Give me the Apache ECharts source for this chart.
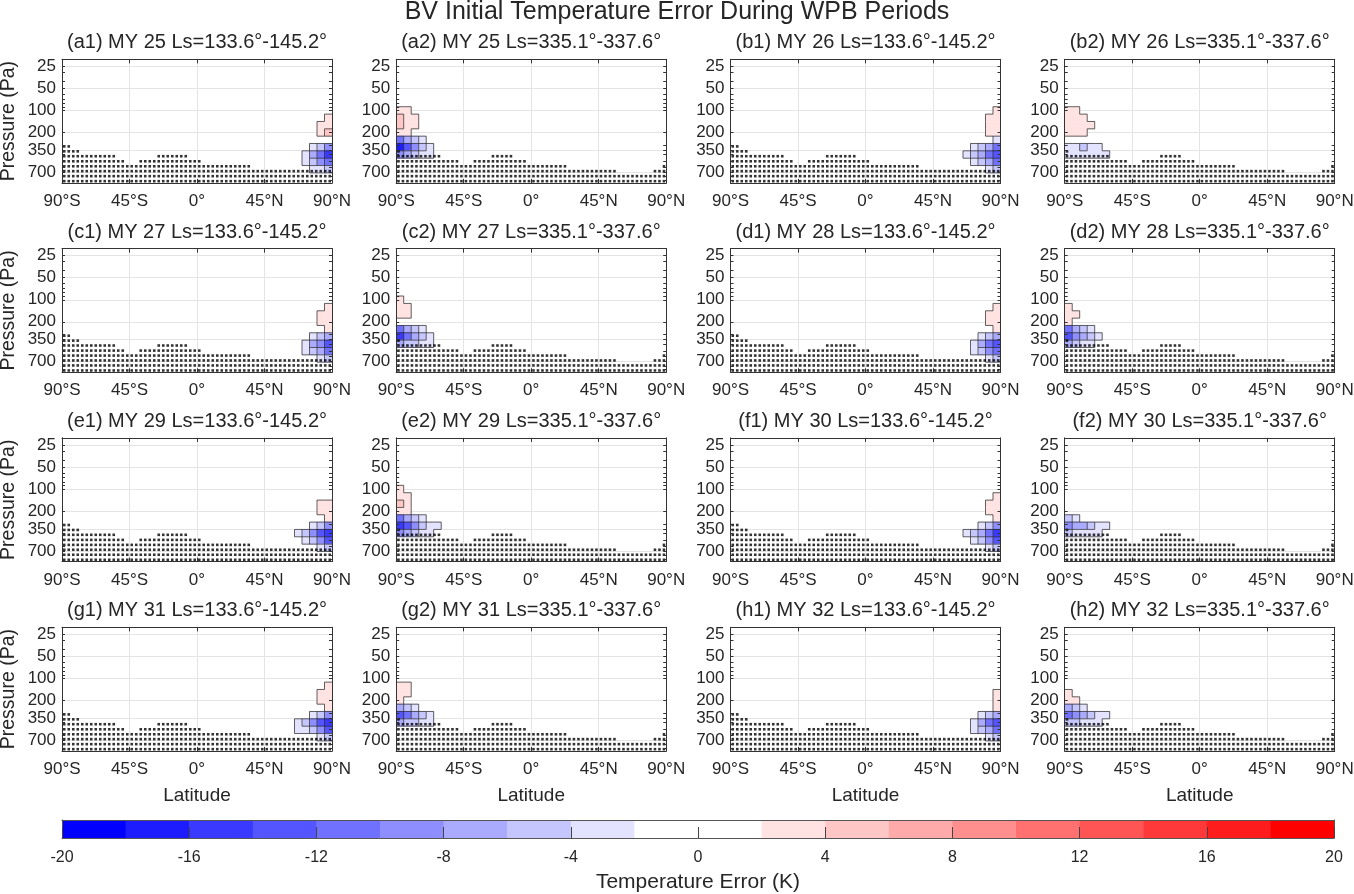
<!DOCTYPE html>
<html lang="en">
<head>
<meta charset="UTF-8">
<title>BV Initial Temperature Error During WPB Periods</title>
<script src="https://cdn.jsdelivr.net/npm/echarts@6/dist/echarts.min.js"></script>
<style>
  * { padding: 0; margin: 0; }
  html, body { width: 100%; height: 100%; background: #fff; }
  #chart { width: 1354px; height: 894px; }
</style>
</head>
<body>
<div id="chart"></div>
<script>
// ---------------- data ----------------
const YEARS = [25, 26, 27, 28, 29, 30, 31, 32];
const LETTERS = ['a', 'b', 'c', 'd', 'e', 'f', 'g', 'h'];
const LS_RANGES = ['Ls=133.6°-145.2°', 'Ls=335.1°-337.6°'];

const LAT_TICKS = [-90, -45, 0, 45, 90];
const LAT_LABELS = ['90°S', '45°S', '0°', '45°N', '90°N'];
const P_TICKS = [25, 50, 100, 200, 350, 700];
const P_MINOR = [30, 40, 60, 70, 80, 90, 300, 400, 500, 600, 800, 900];
const CB_LEVELS = [-20, -18, -16, -14, -12, -10, -8, -6, -4, -2, 0, 2, 4, 6, 8, 10, 12, 14, 16, 18, 20];

// temperature error cells: rows at these pressures (Pa), columns 5 deg wide going away from the pole
const P_ROWS = [79, 100, 126, 159, 200, 252, 317, 400, 504, 635, 800];

// Ls 133.6-145.2 panels (north pole)   /   Ls 335.1-337.6 panels (south pole)
const F_A1 = [[], [], [3], [3, 2], [4, 2], [], [-8, -5, -2], [-14, -11, -7, -3], [-11, -8, -5, -2], [-5, -3, -2], []];
const F_A2 = [[], [3, 2], [5, 3, 2], [5, 3, 2], [2, 2], [-10, -7, -4, -2], [-16, -12, -8, -5, -2], [-8, -6, -4, -2, -2], [], [], []];
const F_B1 = [[], [2], [3, 2], [3, 2], [2, 2], [-2], [-10, -7, -4, -2], [-13, -10, -7, -4, -2], [-10, -7, -5, -2], [-4, -2], []];
const F_B2 = [[], [2, 2], [3, 3, 2], [3, 3, 3, 2], [2, 2, 2], [], [-3, -3, -4, -3, -2], [-2, -2, -3, -2, -2, -2], [], [], []];
const F_C1 = [[], [], [2], [3, 2], [3, 2], [2], [-7, -4, -2], [-12, -9, -6, -3], [-10, -7, -4, -2], [-5, -2], []];
const F_C2 = [[], [2], [3, 2], [3, 2], [], [-11, -7, -4, -2], [-15, -11, -7, -5, -2], [-7, -5, -4, -2, -2], [], [], []];
const F_D1 = [[], [], [2], [3, 2], [3, 2], [2], [-7, -4, -2], [-13, -10, -6, -3], [-11, -8, -5, -2], [-5, -2], []];
const F_D2 = [[], [], [2], [3, 2], [2], [-11, -7, -4, -2], [-13, -9, -6, -4, -2], [-6, -5, -3, -2], [], [], []];
const F_E1 = [[], [], [], [3, 2], [3, 2], [3], [-9, -5, -2], [-15, -12, -8, -4, -2], [-12, -9, -5, -2], [-5, -2], []];
const F_E2 = [[], [2], [3, 2], [4, 3], [3, 2], [-10, -7, -4, -2], [-15, -12, -8, -5, -3, -2], [-8, -6, -5, -3, -2], [], [], []];
const F_F1 = [[], [], [2], [3, 2], [3, 2], [2], [-9, -5, -2], [-15, -11, -7, -4, -2], [-12, -8, -5, -2], [-5, -2], []];
const F_F2 = [[], [], [], [], [], [-4, -2], [-8, -7, -6, -4, -3, -2], [-4, -3, -3, -2, -2], [], [], []];
const F_G1 = [[], [], [2], [3, 2], [3, 2], [2], [-8, -5, -2], [-15, -12, -8, -4, -2], [-12, -8, -5, -3, -2], [-4, -2], []];
const F_G2 = [[], [], [3, 2], [3, 2], [2], [-7, -4, -2], [-13, -10, -6, -4, -2], [-6, -5, -4, -2, -2], [], [], []];
const F_H1 = [[], [], [], [3], [3], [2], [-7, -4, -2], [-13, -10, -6, -3], [-10, -7, -4, -2], [-4, -2], []];
const F_H2 = [[], [], [], [2], [3, 2], [-7, -4, -2], [-11, -8, -6, -4, -2, -2], [-5, -4, -3, -2, -2], [], [], []];

// stippling (below the surface): model columns, levels and first level under ground per column
const DOT_LAT = [-88.5, -85.5, -82.5, -79.5, -76.5, -73.5, -70.5, -67.5, -64.5, -61.5,
  -58.5, -55.5, -52.5, -49.5, -46.5, -43.5, -40.5, -37.5, -34.5, -31.5,
  -28.5, -25.5, -22.5, -19.5, -16.5, -13.5, -10.5, -7.5, -4.5, -1.5,
  1.5, 4.5, 7.5, 10.5, 13.5, 16.5, 19.5, 22.5, 25.5, 28.5,
  31.5, 34.5, 37.5, 40.5, 43.5, 46.5, 49.5, 52.5, 55.5, 58.5,
  61.5, 64.5, 67.5, 70.5, 73.5, 76.5, 79.5, 82.5, 85.5, 88.5];
const DOT_P = [310, 362, 422, 495, 579, 675, 790, 925];
const SURF_1 = [0, 0, 1, 1, 2, 2, 2, 2, 2, 2, 2, 2, 3, 3, 4, 4, 4, 3, 3, 3,
  3, 2, 2, 2, 2, 2, 2, 2, 3, 3, 3, 4, 4, 4, 4, 4, 4, 4, 4, 4,
  4, 4, 5, 5, 5, 5, 5, 5, 5, 5, 5, 5, 5, 5, 5, 5, 5, 5, 5, 5];
const SURF_2 = [1, 2, 2, 2, 2, 2, 2, 2, 2, 2, 3, 3, 3, 3, 4, 4, 4, 3, 3, 3,
  3, 2, 2, 2, 2, 2, 3, 3, 3, 4, 4, 4, 4, 4, 4, 4, 4, 4, 5, 5,
  5, 5, 5, 5, 5, 5, 5, 5, 5, 6, 6, 6, 6, 6, 6, 6, 6, 5, 5, 4];

const FIELDS = [
  [F_A1, F_A2], [F_B1, F_B2], [F_C1, F_C2], [F_D1, F_D2],
  [F_E1, F_E2], [F_F1, F_F2], [F_G1, F_G2], [F_H1, F_H2]
];

// ---------------- layout ----------------
const FONT = '"Liberation Sans", Arial, Helvetica, sans-serif';
const TXT = '#262626';
const GRID_LEFT = [62, 396.2, 730.5, 1064.7];
const GRID_TOP = [59.3, 248.6, 437.9, 627.3];
const GRID_W = 270;
const GRID_H = 123.7;
const Y_MIN = Math.log(20);
const Y_MAX = Math.log(980);

function bandColor(v) {
  const k = Math.min(9, Math.floor(Math.abs(v) / 2));
  const c = Math.round(255 * (1 - k / 9));
  return v < 0 ? 'rgb(' + c + ',' + c + ',255)' : 'rgb(255,' + c + ',' + c + ')';
}
function band(v) {
  return v < 0 ? -Math.floor(-v / 2) : Math.floor(v / 2);
}

// row edges (geometric mid points)
const P_EDGES = [];
for (let r = 0; r <= P_ROWS.length; r++) {
  if (r === 0) P_EDGES.push(P_ROWS[0] / Math.sqrt(P_ROWS[1] / P_ROWS[0]));
  else if (r === P_ROWS.length) P_EDGES.push(P_ROWS[r - 1] * Math.sqrt(P_ROWS[r - 1] / P_ROWS[r - 2]));
  else P_EDGES.push(Math.sqrt(P_ROWS[r - 1] * P_ROWS[r]));
}

function cellsOf(field, sign) {
  const cells = [], segs = [];
  const nR = field.length, nC = 8;
  const val = (r, c) => (r >= 0 && r < nR && field[r][c] !== undefined) ? field[r][c] : 0;
  const latAt = c => sign * (90 - 5 * c);
  for (let r = 0; r < nR; r++) {
    for (let c = 0; c < nC; c++) {
      const v = val(r, c);
      if (band(v) !== 0) {
        cells.push([latAt(c + 1), latAt(c), Math.log(P_EDGES[r]), Math.log(P_EDGES[r + 1]), v]);
      }
      // contour-like edges where the band changes
      if (band(v) !== band(val(r, c + 1))) {
        segs.push([latAt(c + 1), Math.log(P_EDGES[r]), latAt(c + 1), Math.log(P_EDGES[r + 1])]);
      }
      if (band(v) !== band(val(r + 1, c))) {
        segs.push([latAt(c + 1), Math.log(P_EDGES[r + 1]), latAt(c), Math.log(P_EDGES[r + 1])]);
      }
      if (r === 0 && band(v) !== 0) {
        segs.push([latAt(c + 1), Math.log(P_EDGES[0]), latAt(c), Math.log(P_EDGES[0])]);
      }
    }
  }
  return { cells, segs };
}

function dotsOf(surf) {
  const pts = [];
  DOT_LAT.forEach((lat, i) => {
    for (let k = surf[i]; k < DOT_P.length; k++) pts.push([lat, Math.log(DOT_P[k])]);
  });
  return pts;
}

const option = {
  animation: false,
  backgroundColor: '#fff',
  textStyle: { fontFamily: FONT },
  grid: [], xAxis: [], yAxis: [], series: [],
  graphic: [{
    type: 'text', x: 677, y: 12,
    style: { text: 'BV Initial Temperature Error During WPB Periods', fontSize: 25, fontFamily: FONT, fill: TXT, align: 'center', verticalAlign: 'middle' }
  }]
};

const frameLine = { show: true, onZero: false, lineStyle: { color: '#333', width: 1 } };
const minorVals = P_TICKS.concat(P_MINOR).map(Math.log);

for (let r = 0; r < 4; r++) {
  for (let c = 0; c < 4; c++) {
    const g = r * 4 + c;
    const yi = r * 2 + (c >> 1);
    const season = c % 2;
    const left = GRID_LEFT[c], top = GRID_TOP[r];
    option.grid.push({ left: left, top: top, width: GRID_W, height: GRID_H, outerBoundsMode: 'none' });

    option.graphic.push({
      type: 'text', x: left + GRID_W / 2, y: top - 16.5,
      style: {
        text: '(' + LETTERS[yi] + (season + 1) + ') MY ' + YEARS[yi] + ' ' + LS_RANGES[season],
        fontSize: 20, fontFamily: FONT, fill: TXT, align: 'center', verticalAlign: 'middle'
      }
    });

    // x axes: labels + grid (under data), top frame, bottom frame
    option.xAxis.push({
      gridIndex: g, type: 'value', min: -90, max: 90, interval: 45, position: 'bottom', z: 0,
      axisLine: { show: false, onZero: false }, axisTick: { show: false },
      axisLabel: { fontSize: 17, color: TXT, margin: 10, formatter: v => LAT_LABELS[LAT_TICKS.indexOf(v)] },
      splitLine: { show: true, lineStyle: { color: '#e4e4e4', width: 1 } },
      name: r === 3 ? 'Latitude' : '', nameLocation: 'middle', nameGap: 35,
      nameTextStyle: { fontSize: 19, color: TXT }
    });
    ['top', 'bottom'].forEach(pos => {
      option.xAxis.push({
        gridIndex: g, type: 'value', min: -90, max: 90, interval: 45, position: pos, z: 10,
        axisLine: frameLine, axisTick: { show: true, inside: true, length: 4, lineStyle: { color: '#333' } },
        axisLabel: { show: false }, splitLine: { show: false }
      });
    });

    // y axes on log pressure
    option.yAxis.push({
      gridIndex: g, type: 'value', min: Y_MIN, max: Y_MAX, inverse: true, position: 'left', z: 0,
      axisLine: { show: false, onZero: false },
      axisTick: { show: false, customValues: P_TICKS.map(Math.log) },
      axisLabel: {
        customValues: P_TICKS.map(Math.log), fontSize: 17, color: TXT, margin: 6,
        formatter: v => String(Math.round(Math.exp(v)))
      },
      splitLine: { show: true, lineStyle: { color: '#e4e4e4', width: 1 } },
      name: c === 0 ? 'Pressure (Pa)' : '', nameLocation: 'middle', nameGap: 43,
      nameTextStyle: { fontSize: 19.5, color: TXT }
    });
    ['right', 'left'].forEach(pos => {
      option.yAxis.push({
        gridIndex: g, type: 'value', min: Y_MIN, max: Y_MAX, inverse: true, position: pos, z: 10,
        axisLine: frameLine,
        axisTick: { show: true, inside: true, length: 3, customValues: minorVals, lineStyle: { color: '#333' } },
        axisLabel: { show: false }, splitLine: { show: false }
      });
    });

    const sign = season === 0 ? 1 : -1;
    const f = cellsOf(FIELDS[yi][season], sign);
    option.series.push({
      type: 'custom', xAxisIndex: 3 * g, yAxisIndex: 3 * g, z: 2, silent: true, clip: true,
      encode: { x: [0, 1], y: [2, 3] },
      data: f.cells,
      renderItem: (params, api) => {
        const a = api.coord([api.value(0), api.value(2)]);
        const b = api.coord([api.value(1), api.value(3)]);
        return {
          type: 'rect',
          shape: { x: Math.min(a[0], b[0]) - 0.3, y: Math.min(a[1], b[1]) - 0.3, width: Math.abs(b[0] - a[0]) + 0.6, height: Math.abs(b[1] - a[1]) + 0.6 },
          style: { fill: bandColor(api.value(4)) }
        };
      }
    });
    option.series.push({
      type: 'custom', xAxisIndex: 3 * g, yAxisIndex: 3 * g, z: 3, silent: true, clip: true,
      encode: { x: [0, 2], y: [1, 3] },
      data: f.segs,
      renderItem: (params, api) => {
        const a = api.coord([api.value(0), api.value(1)]);
        const b = api.coord([api.value(2), api.value(3)]);
        return { type: 'line', shape: { x1: a[0], y1: a[1], x2: b[0], y2: b[1] }, style: { stroke: '#222', lineWidth: 0.7 } };
      }
    });
    option.series.push({
      type: 'scatter', xAxisIndex: 3 * g, yAxisIndex: 3 * g, z: 4, silent: true,
      symbol: 'rect', symbolSize: 2.6, itemStyle: { color: '#000' },
      data: dotsOf(season === 0 ? SURF_1 : SURF_2)
    });
  }
}

// colour bar
const cb = option.grid.length;
option.grid.push({ left: 62, top: 820, width: 1272, height: 18, outerBoundsMode: 'none' });
option.xAxis.push({
  gridIndex: cb, type: 'value', min: -20, max: 20, interval: 4, position: 'bottom', z: 10,
  axisLine: { show: true, onZero: false, lineStyle: { color: '#555', width: 1 } },
  axisTick: { show: true, inside: true, length: 11, lineStyle: { color: '#444' } },
  axisLabel: { fontSize: 16, color: TXT, margin: 12 },
  splitLine: { show: false },
  name: 'Temperature Error (K)', nameLocation: 'middle', nameGap: 34,
  nameTextStyle: { fontSize: 21, color: TXT }
});
option.xAxis.push({
  gridIndex: cb, type: 'value', min: -20, max: 20, position: 'top', z: 10,
  axisLine: { show: true, onZero: false, lineStyle: { color: '#555', width: 1 } },
  axisTick: { show: false }, axisLabel: { show: false }, splitLine: { show: false }
});
['left', 'right'].forEach(pos => {
  option.yAxis.push({
    gridIndex: cb, type: 'value', min: 0, max: 1, position: pos, z: 10,
    axisLine: { show: true, onZero: false, lineStyle: { color: '#555', width: 1 } },
    axisTick: { show: false }, axisLabel: { show: false }, splitLine: { show: false }
  });
});
const cbData = [];
for (let i = 0; i < CB_LEVELS.length - 1; i++) cbData.push([CB_LEVELS[i], CB_LEVELS[i + 1]]);
option.series.push({
  type: 'custom', xAxisIndex: option.xAxis.length - 2, yAxisIndex: option.yAxis.length - 2, z: 2, silent: true,
  encode: { x: [0, 1] },
  data: cbData,
  renderItem: (params, api) => {
    const a = api.coord([api.value(0), 1]);
    const b = api.coord([api.value(1), 0]);
    return {
      type: 'rect',
      shape: { x: a[0], y: a[1], width: b[0] - a[0] + 0.5, height: b[1] - a[1] },
      style: { fill: bandColor((api.value(0) + api.value(1)) / 2) }
    };
  }
});

const myChart = echarts.init(document.getElementById('chart'));
myChart.setOption(option);
</script>
</body>
</html>
